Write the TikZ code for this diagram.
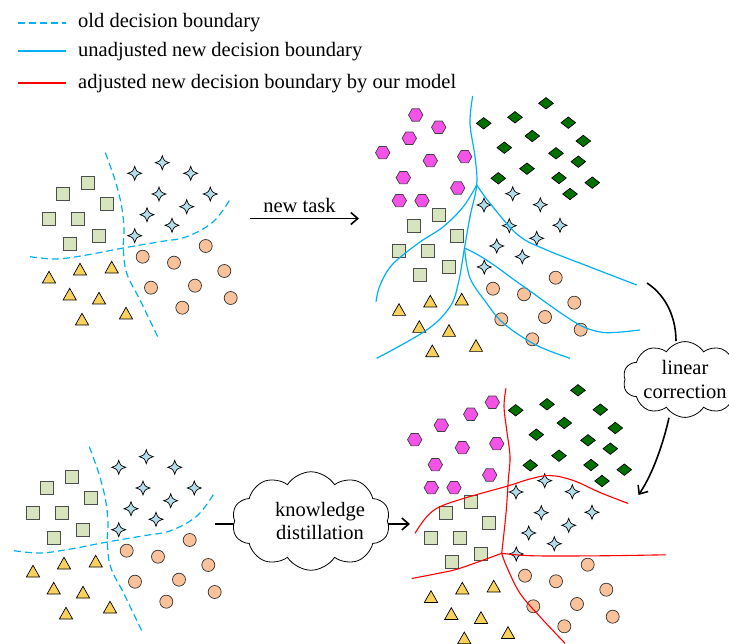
\documentclass[tikz,border=0pt]{standalone}
\usepackage{fontspec}
\setmainfont{Liberation Serif}
\usetikzlibrary{shapes.symbols,arrows.meta}
\definecolor{bndblue}{HTML}{00B0F0}
\definecolor{bndred}{HTML}{FF0000}
\definecolor{sqfill}{HTML}{D7E4BD}
\definecolor{stfill}{HTML}{B4DDE9}
\definecolor{cifill}{HTML}{F9C29A}
\definecolor{trfill}{HTML}{F9D15B}
\definecolor{hxfill}{HTML}{F553E8}
\definecolor{dmfill}{HTML}{007000}
\definecolor{sqline}{HTML}{4D4D4D}
\newcommand\TLsq{88.3/183.3,63.3/194,107.3/204.3,49/219,78/219,99/235.7,70/243.7}
\newcommand\TLst{162.3/162.7,134.7/173.3,190.7/173.3,159/194,210.3/194,186.7/206.7,147/214.7,172/225.3,134.7/235.7}
\newcommand\TLci{205.7/246,142.7/256.7,174/262.7,224.3/271,151/287.7,195/285.7,230.7/298,182.3/307.7}
\newcommand\TLtr{49/277.3,80/269.3,111.7/267.3,69.7/294.3,99/298.3,82/319.3,126/313.3}
\newcommand\TRhx{438.7/127.3,409.3/138.3,382.7/152.7,430.3/160.7,464.7/156.7,403.3/177.7,457.7/188,399.3/200.7,422/200.7}
\newcommand\TRdm{546/103.3,515/117.3,483.7/123.3,568.3/122.7,532.3/136,583.3/141,504.3/147.7,556/153.3,578.3/161.7,527/168.7,498.3/178.3,559/178,592.3/182.7,570/194}
\newcommand\TRst{512.7/193.7,484/205,540.3/204.7,509.3/225.7,560/225.3,536.7/238.3,496.7/246,522.3/256.7,484.3/267}
\newcommand\TRsq{438.7/215.3,413.7/225.7,457.3/235.7,399/250.7,428.3/250.7,449/267.3,420/275.3}
\newcommand\TRci{555.7/277.7,493/288.7,524/294.3,574.3/302.7,501.3/319.3,545/317,580.7/329.7,532.3/339.3}
\newcommand\TRtr{399/309.7,430.3/301.3,461.7/299.3,419.3/326.7,449/330.7,432.3/351,476/345.7}
\newcommand\drawTLcluster{%
  \foreach \x/\y in \TLsq {\pic at (\x,\y) {sqr};}
  \foreach \x/\y in \TLst {\pic at (\x,\y) {str};}
  \foreach \x/\y in \TLci {\pic at (\x,\y) {cir};}
  \foreach \x/\y in \TLtr {\pic at (\x,\y) {tri};}
  \draw[oldb] plot[smooth, tension=0.6] coordinates {(105.3,152.7) (115,180) (121.7,206.7) (124,230) (123.3,248.3) (126.7,273.3) (140,300) (159.3,340)};
  \draw[oldb] plot[smooth, tension=0.6] coordinates {(30,256.7) (56.7,259) (86.7,255) (121.7,248.3) (160,241.7) (186.7,236.7) (213.3,221.7) (230.7,198.3)};
}
\newcommand\drawTRcluster{%
  \foreach \x/\y in \TRhx {\pic at (\x,\y) {hex};}
  \foreach \x/\y in \TRdm {\pic at (\x,\y) {dmd};}
  \foreach \x/\y in \TRst {\pic at (\x,\y) {str};}
  \foreach \x/\y in \TRsq {\pic at (\x,\y) {sqr};}
  \foreach \x/\y in \TRci {\pic at (\x,\y) {cir};}
  \foreach \x/\y in \TRtr {\pic at (\x,\y) {tri};}
}
\tikzset{
  shp/.style={draw=black, line width=0.7pt, line join=miter},
  pics/sqr/.style={code={\draw[shp,draw=sqline,line width=1pt,fill=sqfill] (-6.4,-6.4) rectangle (6.4,6.4);}},
  pics/str/.style={code={\draw[shp,fill=stfill] (0,-7) .. controls (1.8,-1.8) .. (7,0) .. controls (1.8,1.8) .. (0,7) .. controls (-1.8,1.8) .. (-7,0) .. controls (-1.8,-1.8) .. (0,-7) -- cycle;}},
  pics/cir/.style={code={\draw[shp,draw=black!80,fill=cifill] (0,0) circle (6.5);}},
  pics/tri/.style={code={\draw[shp,fill=trfill] (0,-6) -- (6.6,5.7) -- (-6.6,5.7) -- cycle;}},
  pics/hex/.style={code={\draw[shp,draw=black!75,fill=hxfill] (-7.2,0) -- (-3.6,-6.2) -- (3.6,-6.2) -- (7.2,0) -- (3.6,6.2) -- (-3.6,6.2) -- cycle;}},
  pics/dmd/.style={code={\draw[shp,fill=dmfill] (0,-5.7) -- (7.3,0) -- (0,5.7) -- (-7.3,0) -- cycle;}},
  oldb/.style={draw=bndblue, line width=1.2pt, dash pattern=on 7pt off 4pt},
  newb/.style={draw=bndblue, line width=1.2pt},
  adjb/.style={draw=bndred, line width=1.1pt},
  legl/.style={line width=1.7pt},
  txt/.style={font=\fontsize{20.5}{23.5}\selectfont, inner sep=0pt},
  cloudbox/.style={cloud, draw, line width=0.8pt, cloud puffs=10, cloud puff arc=115, aspect=2, inner sep=0pt, align=center, font=\fontsize{20.5}{23.5}\selectfont},
  arr/.style={line width=1.6pt, -{Straight Barb[length=7pt,width=12pt]}},
  conn/.style={line width=1.6pt},
}
\begin{document}
\begin{tikzpicture}[x=1pt,y=-1pt]
\useasboundingbox (0,0) rectangle (729,644);
% top-left cluster
\drawTLcluster
% bottom-left cluster
\begin{scope}[shift={(-16,294)}]
\drawTLcluster
\end{scope}
% top-right cluster
\drawTRcluster
\pic at (415.7,115) {hex};
\draw[newb] plot[smooth, tension=0.6] coordinates {(472.7,96) (470,123.3) (475,156.7) (476.7,185) (470,216.7) (464.5,248) (458.3,283.3) (450,306.7) (426.7,330) (376.7,358.3)};
\draw[newb] plot[smooth, tension=0.6] coordinates {(476.7,185) (463.3,206.7) (443.3,226.7) (420,242) (397,260) (386.7,272) (379,288) (376,301.7)};
\draw[newb] plot[smooth, tension=0.6] coordinates {(476.7,185) (490,203.3) (518,235) (546.7,250) (590,267) (636.7,285)};
\draw[newb] plot[smooth, tension=0.6] coordinates {(464.5,248) (480,256) (496.7,267) (513,279) (530,291) (548,304) (566.7,317) (583,326.7) (600,332) (615,332.5) (640,330)};
\draw[newb] plot[smooth, tension=0.6] coordinates {(464.5,248) (470,278) (486.7,303.3) (500,320) (516.7,333.3) (540,347) (570,358.3)};
% bottom-right cluster
\begin{scope}[shift={(32,287)}]
\drawTRcluster
\end{scope}
\pic at (492.3,402.3) {hex};
\draw[adjb] plot[smooth, tension=0.6] coordinates {(506,388.3) (504,406.7) (506.7,430) (510,456.7) (508.3,480) (506,513.3) (501.7,553.3)};
\draw[adjb] plot[smooth, tension=0.6] coordinates {(501.7,553.3) (506.7,566.7) (520,593.3) (540,616.7) (565,643.3)};
\draw[adjb] plot[smooth, tension=0.6] coordinates {(415,533.3) (426.7,516.7) (440,506.7) (466.7,497.5) (506.7,486.3) (530,479) (550,475.5) (573.3,480.5) (600,492.5) (628.3,503.5)};
\draw[adjb] plot[smooth, tension=0.6] coordinates {(411.7,578.5) (440,573) (460,568.3) (501.7,553.3)};
\draw[adjb] plot[smooth, tension=0.6] coordinates {(501.7,553.3) (533.3,555.8) (600,555.8) (666,554.8)};
% new task arrow
\coordinate (nta) at (250,218.5);
\coordinate (ntb) at (359,218.5);
\draw[arr] (nta) -- (ntb);
\node[txt, anchor=base] (ntl) at (299.5,213) {new task};
% knowledge distillation
\node[cloudbox, minimum width=142pt, minimum height=76pt] (kd) at (311,521) {\hspace*{18pt}knowledge\\\hspace*{18pt}distillation};
\coordinate (kda) at (215,524);
\coordinate (kdb) at (410,524);
\draw[conn] (kda) -- (kda -| kd.west);
\draw[arr] (kdb -| kd.east) -- (kdb);
% linear correction
\node[cloudbox, minimum width=124pt, minimum height=67pt] (lc) at (685,379.5) {linear\\correction};
\coordinate (lca) at (647,283);
\coordinate (lcb) at (638.5,495);
\draw[conn] (lca) .. controls (668,297) and (676,320) .. ([xshift=-9pt]lc.north);
\draw[arr] ([xshift=-16pt]lc.south) .. controls (664,440) and (654,472) .. (lcb);
% legend
\coordinate (l1a) at (18,23); \coordinate (l1b) at (66,23);
\coordinate (l2a) at (18,51); \coordinate (l2b) at (66,51);
\coordinate (l3a) at (18,83); \coordinate (l3b) at (66,83);
\draw[oldb, legl] (l1a) -- (l1b);
\draw[newb, legl] (l2a) -- (l2b);
\draw[adjb, legl] (l3a) -- (l3b);
\node[txt, anchor=base west] (t1) at (78,27.5) {old decision boundary};
\node[txt, anchor=base west] (t2) at (78,57) {unadjusted new decision boundary};
\node[txt, anchor=base west] (t3) at (78,88.5) {adjusted new decision boundary by our model};
\end{tikzpicture}
\end{document}
